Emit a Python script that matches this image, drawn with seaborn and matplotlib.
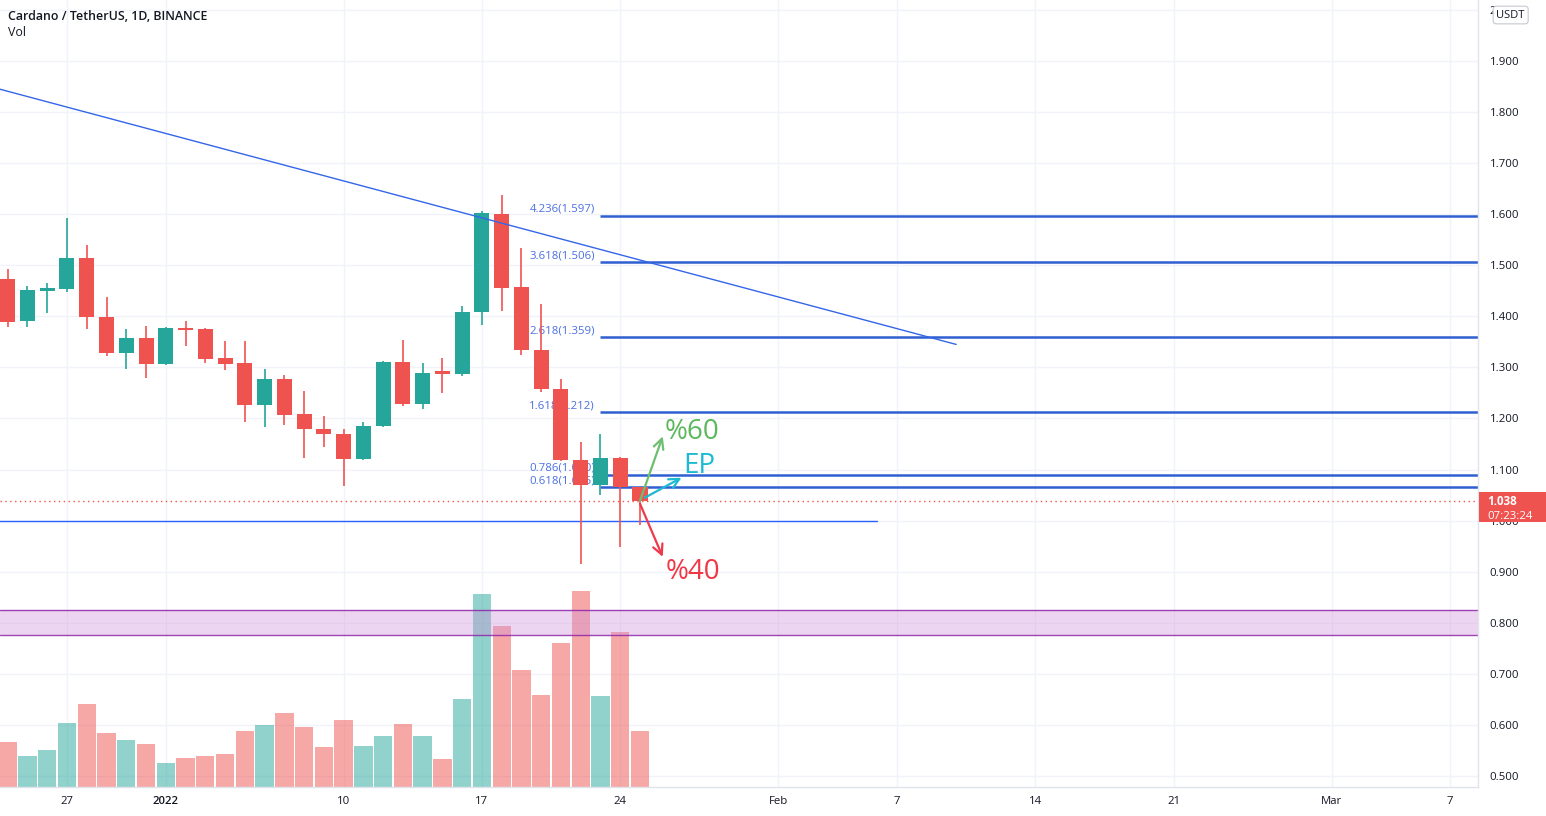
import matplotlib
matplotlib.use('Agg')
import numpy as np
import pandas as pd
import matplotlib.pyplot as plt
import matplotlib.transforms as mtransforms
from matplotlib.patches import Rectangle
import seaborn as sns

# ---- данные ----
dates = pd.date_range('2021-12-24', '2022-01-25', freq='D')
opens = [1.474, 1.390, 1.450, 1.453, 1.514, 1.398, 1.329, 1.357, 1.306, 1.378,
         1.376, 1.318, 1.308, 1.227, 1.278, 1.208, 1.180, 1.169, 1.120, 1.186,
         1.310, 1.229, 1.292, 1.288, 1.408, 1.600, 1.457, 1.335, 1.257, 1.118,
         1.069, 1.122, 1.065]
highs = [1.492, 1.459, 1.465, 1.592, 1.539, 1.437, 1.376, 1.382, 1.380, 1.390,
         1.378, 1.351, 1.351, 1.296, 1.286, 1.253, 1.204, 1.180, 1.194, 1.312,
         1.353, 1.308, 1.318, 1.420, 1.606, 1.637, 1.533, 1.425, 1.278, 1.153,
         1.169, 1.125, 1.065]
lows = [1.380, 1.380, 1.406, 1.447, 1.376, 1.322, 1.296, 1.280, 1.305, 1.341,
        1.308, 1.294, 1.194, 1.184, 1.188, 1.122, 1.145, 1.067, 1.118, 1.184,
        1.225, 1.218, 1.249, 1.284, 1.384, 1.410, 1.325, 1.251, 1.116, 0.916,
        1.051, 0.949, 0.992]
closes = [1.388, 1.451, 1.455, 1.514, 1.398, 1.329, 1.357, 1.306, 1.378, 1.374,
          1.316, 1.306, 1.227, 1.278, 1.206, 1.180, 1.169, 1.120, 1.186, 1.310,
          1.229, 1.290, 1.288, 1.408, 1.602, 1.455, 1.335, 1.257, 1.118, 1.069,
          1.122, 1.065, 1.038]
volumes = [270, 186, 222, 384, 498, 324, 282, 258, 144, 174, 186, 198, 336, 372,
           444, 360, 240, 402, 246, 306, 378, 306, 168, 528, 1158, 966, 702, 552,
           864, 1176, 546, 930, 336]

fib_ratios = ['4.236', '3.618', '2.618', '1.618', '0.786', '0.618']
fib_prices = [1.597, 1.506, 1.359, 1.212, 1.090, 1.065]
fib_start = '2022-01-23'

trend_dates = ['2021-12-23', '2022-02-10']
trend_prices = [1.851, 1.345]
support_dates = ['2021-12-20', '2022-02-06']
support_price = 1.000
zone_prices = [0.7765, 0.8255]

tick_dates = ['2021-12-27', '2022-01-01', '2022-01-10', '2022-01-17', '2022-01-24',
              '2022-02-01', '2022-02-07', '2022-02-14', '2022-02-21', '2022-03-01',
              '2022-03-07']
tick_labels = ['27', '2022', '10', '17', '24', 'Feb', '7', '14', '21', 'Mar', '7']
price_ticks = [0.5, 0.6, 0.7, 0.8, 0.9, 1.0, 1.1, 1.2, 1.3, 1.4, 1.5, 1.6, 1.7, 1.8, 1.9, 2.0]
price_labels = ['0.500', '0.600', '0.700', '0.800', '0.900', '1.000', '1.100', '1.200',
                '1.300', '1.400', '1.500', '1.600', '1.700', '1.800', '1.900', '2']

# стрелки сценариев: (день-начало, цена, день-конец, цена)
arrow_up = (29.0, 1.039, 30.15, 1.165)
arrow_ep = (29.25, 1.045, 31.1, 1.084)
arrow_dn = (29.0, 1.033, 30.15, 0.929)

UP = '#26a69a'
DOWN = '#ef5350'
GRID = '#f0f3fa'
BASE = pd.Timestamp('2021-12-27')


def day(d):
    return (pd.Timestamp(d) - BASE).days


sns.set_theme(style='white')
plt.rcParams['font.family'] = ['Open Sans', 'DejaVu Sans']

W, H = 1546, 816
fig = plt.figure(figsize=(W / 100, H / 100), dpi=100)
rect = [0, 29 / H, 1478 / W, 787 / H]
ax2 = fig.add_axes(rect)            # объём + сетка (нижний слой)
ax = fig.add_axes(rect, sharex=ax2)  # цена
ax.patch.set_alpha(0)

t = np.array([day(d) for d in dates])
o, h, l, c = map(np.array, (opens, highs, lows, closes))
up = c >= o

xlim = (-3.39, 71.41)
ylim = (0.4784, 2.0194)

# ---- объём ----
vol_df = pd.DataFrame({'t': t, 'vol': volumes,
                       'dir': np.where(up, 'up', 'down')})
sns.barplot(data=vol_df, x='t', y='vol', hue='dir', palette={'up': UP, 'down': DOWN},
            native_scale=True, width=0.93, dodge=False, legend=False,
            errorbar=None, saturation=1, alpha=0.5, linewidth=0, ax=ax2)
ax2.set_ylim(0, max(volumes) / 0.249)

# сетка на нижнем слое
blend2 = mtransforms.blended_transform_factory(ax2.transAxes, ax.transData)
for p in price_ticks:
    ax2.plot([0, 1], [p, p], transform=blend2, color=GRID, lw=1, zorder=0)
for d in tick_dates:
    ax2.axvline(day(d), color=GRID, lw=1, zorder=0)
ax2.tick_params(axis='both', which='both', bottom=False, left=False,
                labelbottom=False, labelleft=False)
ax2.set_xlabel('')
ax2.set_ylabel('')
for s in ax2.spines.values():
    s.set_visible(False)

# ---- зона и уровни ----
ax.axhspan(zone_prices[0], zone_prices[1], facecolor='#ce93d8', alpha=0.38,
           edgecolor='none', zorder=1)
ax.axhline(zone_prices[0], color='#8e24aa', lw=1, alpha=0.85, zorder=1)
ax.axhline(zone_prices[1], color='#8e24aa', lw=1, alpha=0.85, zorder=1)

ax.plot([day(d) for d in support_dates], [support_price] * 2, color='#2962ff',
        lw=1, zorder=2)
ax.plot([day(d) for d in trend_dates], trend_prices, color='#3566e8', lw=1,
        zorder=4)

for ratio, p in zip(fib_ratios, fib_prices):
    ax.hlines(p, day(fib_start), xlim[1], color='#2f5fd0', lw=1.8, zorder=2)
    ax.annotate(f'{ratio}({p:.3f})', xy=(day(fib_start), p), xytext=(-4, 4.5),
                textcoords='offset points', ha='right', va='center',
                fontsize=8.2, color='#4a6fe3', zorder=2)

ax.axhline(c[-1], color=DOWN, lw=1, ls=(0, (1, 2.5)), zorder=2)

# ---- свечи ----
cols = np.where(up, UP, DOWN)
ax.vlines(t, l, h, colors=cols, lw=1.2, zorder=3)
body = np.where(np.abs(c - o) < 0.004, np.where(up, 0.004, -0.004), c - o)
ax.bar(t, body, bottom=o, width=0.76, color=cols, linewidth=0, zorder=3)

# ---- стрелки сценариев ----
for (x0, y0, x1, y1), col in [(arrow_up, '#6cbf6e'), (arrow_ep, '#1cb9d3'),
                              (arrow_dn, '#ee3a4a')]:
    ax.annotate('', xy=(x1, y1), xytext=(x0, y0),
                arrowprops=dict(arrowstyle='->', color=col, lw=1.6,
                                mutation_scale=18, shrinkA=0, shrinkB=0),
                zorder=5)
ax.text(30.26, 1.1736, '%60', color='#5cb85c', fontsize=20, va='center', ha='left', zorder=5)
ax.text(31.2, 1.106, 'EP', color='#1cb9d3', fontsize=20, va='center', ha='left', zorder=5)
ax.text(30.31, 0.899, '%40', color='#f23645', fontsize=20, va='center', ha='left', zorder=5)

# ---- оси ----
ax.set_xlim(*xlim)
ax.set_ylim(*ylim)
ax.yaxis.tick_right()
ax.set_yticks(price_ticks)
ax.set_yticklabels(price_labels)
ax.set_xticks([day(d) for d in tick_dates])
ax.set_xticklabels(tick_labels)
for lab in ax.get_xticklabels():
    if lab.get_text() == '2022':
        lab.set_fontweight('semibold')
ax.tick_params(axis='y', length=0, pad=8.5, labelsize=8.2, labelcolor='#131722')
ax.tick_params(axis='x', length=0, pad=6.5, labelsize=8.2, labelcolor='#131722')
ax.set_xlabel('')
ax.set_ylabel('')
for side in ['top', 'left']:
    ax.spines[side].set_visible(False)
for side in ['right', 'bottom']:
    ax.spines[side].set_color('#e0e3eb')
    ax.spines[side].set_linewidth(1)

# плашка текущей цены
blend = mtransforms.blended_transform_factory(ax.transAxes, ax.transData)
ax.add_patch(Rectangle((1.0005, c[-1] - 0.0411), 0.0455, 0.0587, transform=blend,
                       facecolor=DOWN, edgecolor='none', clip_on=False, zorder=10))
ax.text(1.0065, c[-1], f'{c[-1]:.3f}', transform=blend, color='white',
        fontsize=8.4, fontweight='bold', va='center', ha='left', zorder=11, clip_on=False)
ax.text(1.0065, c[-1] - 0.0294, '07:23:24', transform=blend, color='white',
        fontsize=8.2, va='center', ha='left', zorder=11, clip_on=False)

ax.text(1.0125, 1.99, 'USDT', transform=blend, color='#131722', fontsize=8,
        va='center', ha='left', zorder=11, clip_on=False,
        bbox=dict(boxstyle='round,pad=0.3,rounding_size=0.3', fc='white',
                  ec='#c5c8d0', lw=0.8))

# заголовок
fig.text(8 / W, 1 - 16 / H, 'Cardano / TetherUS, 1D, BINANCE', fontsize=8.9,
         fontweight='semibold', color='#131722', va='center', ha='left')
fig.text(8 / W, 1 - 33 / H, 'Vol', fontsize=8.9, color='#131722', va='center', ha='left')

fig.savefig('out.png', dpi=100)
